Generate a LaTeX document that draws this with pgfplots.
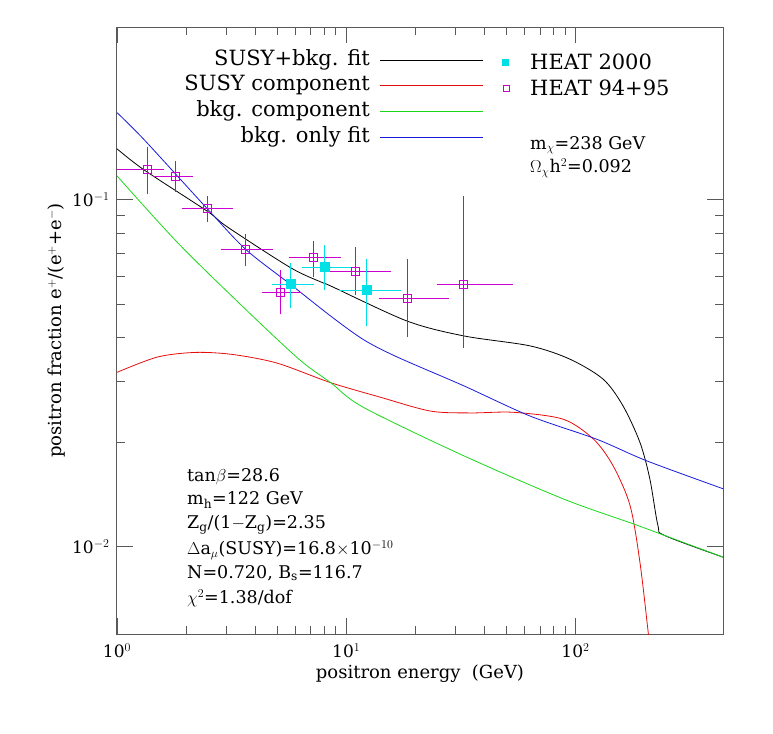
\documentclass[border=0pt]{standalone}
\usepackage{fontspec}
\setmainfont{DejaVu Serif}
\usepackage{xcolor}
\usepackage{pgfplots}
\pgfplotsset{compat=1.18}
\definecolor{cblue}{RGB}{26,26,217}
\definecolor{cgreen}{RGB}{26,217,26}
\definecolor{cred}{RGB}{230,13,13}
\pgfplotsset{heat/.style n args={2}{only marks, draw=#1, mark=#2, mark options={draw=#1, fill=#1},
  error bars/.cd, x dir=both, y dir=both, x explicit, y explicit,
  error bar style={draw=#1, line width=0.8pt}, error mark options={draw=#1, mark size=6pt, line width=0.8pt}}}
\newcommand\hm[8]{\definecolor{tmpc#1}{RGB}{#2}\addplot[mark size=4pt, heat={tmpc#1}{square}] coordinates {(#3,#4) -= (#5,#6) += (#7,#8)};}
\newcommand\hc[8]{\definecolor{tmpc#1}{RGB}{#2}\addplot[mark size=4.5pt, heat={tmpc#1}{square*}] coordinates {(#3,#4) -= (#5,#6) += (#7,#8)};}
\begin{document}
\begin{tikzpicture}
\begin{axis}[name=ax, scale only axis, width=606pt, height=607pt,
  xmode=log, ymode=log, xmin=1, xmax=440, ymin=0.00561, ymax=0.314,
  tick align=inside, major tick length=16pt, minor tick length=8pt,
  tick style={draw=gray!70!black, line width=0.8pt},
  xtick={1,10,100}, ytick={0.01,0.1},
  xticklabels={10$^0$,10$^1$,10$^2$}, yticklabels={10$^{-2}$,10$^{-1}$},
  ticklabel style={font=\fontsize{17}{20}\selectfont},
  xticklabel style={yshift=-6pt},
  yticklabel style={xshift=-4pt},
  xlabel={positron energy\ \ (GeV)}, ylabel={positron fraction e$^+$/(e$^+$+e$^-$)},
  label style={font=\fontsize{18}{21}\selectfont},
  axis line style={draw=gray!70!black, line width=1pt},
  every axis plot/.append style={line width=0.8pt},
  clip=true]
% SUSY+bkg fit
\addplot[draw=black, smooth, tension=0.5] coordinates {(1,0.14)(1.32,0.1214)(2.48,0.0925)(3.03,0.0834)(5.73,0.0636)(8.0,0.0574)(8.55,0.0564)(18.4,0.0447)(32.5,0.0405)(63.4,0.0379)(94.6,0.0347)(132,0.0304)(161,0.0255)(191,0.02)(211,0.0157)(229,0.0115)(245,0.01078)(440,0.00934)};
% SUSY component
\addplot[draw=cred, smooth, tension=0.5] coordinates {(1,0.0318)(1.5,0.0352)(2.2,0.0363)(3.2,0.0358)(5,0.0338)(8.55,0.0297)(14,0.027)(23.3,0.0246)(35,0.0243)(53.7,0.0244)(88.5,0.0233)(120,0.0204)(146,0.0171)(173,0.01315)(191,0.00904)(207.6,0.00567)(212,0.005)};
% bkg component
\addplot[draw=cgreen, smooth, tension=0.5] coordinates {(1,0.117)(1.84,0.0751)(3.58,0.0488)(6.22,0.0347)(8.55,0.0297)(11.9,0.0252)(32.5,0.0183)(88.5,0.01374)(179,0.01164)(245,0.01078)(440,0.00934)};
% bkg only fit
\addplot[draw=cblue, smooth, tension=0.5] coordinates {(1,0.178)(1.315,0.1486)(2.48,0.094)(3.65,0.0718)(5.73,0.0569)(8.55,0.0462)(11.9,0.0395)(16.7,0.0352)(32.5,0.0291)(63.4,0.0238)(124,0.0204)(204,0.0177)(440,0.0147)};
% HEAT 94+95 (one plot per point)
\hm{a}{204,0,209}{1.36}{0.122}{0.36}{0.0143}{0.15}{0.0145}
\hm{b}{205,0,209}{1.79}{0.1164}{0.27}{0.0073}{0.23}{0.0079}
\hm{c}{204,0,210}{2.49}{0.0942}{0.45}{0.0045}{0.52}{0.0039}
\hm{d}{205,0,210}{3.64}{0.0718}{0.63}{0.005}{0.85}{0.0049}
\hm{e}{203,0,209}{5.18}{0.054}{0.64}{0.0054}{0.82}{0.0061}
\hm{f}{204,0,208}{7.21}{0.0681}{1.21}{0.006}{1.69}{0.0051}
\hm{g}{203,0,208}{10.98}{0.0621}{2.08}{0.007}{3.82}{0.0079}
\hm{h}{205,0,208}{18.5}{0.052}{3.7}{0.0102}{8.0}{0.013}
\hm{i}{203,0,210}{32.4}{0.057}{5.9}{0.0182}{18.0}{0.0416}
% HEAT 2000
\hc{j}{0,224,230}{5.72}{0.057}{0.7}{0.0064}{1.08}{0.006}
\hc{k}{0,225,230}{8.05}{0.0638}{1.25}{0.0068}{1.85}{0.0072}
\hc{l}{0,224,231}{12.25}{0.0548}{2.35}{0.0099}{4.15}{0.0102}
% legend
\definecolor{lgr}{RGB}{229,12,12}
\definecolor{lgg}{RGB}{25,216,25}
\definecolor{lgb}{RGB}{25,25,216}
\definecolor{lgc}{RGB}{1,223,229}
\definecolor{lgm}{RGB}{202,1,207}
\def\lf{\fontsize{21}{24}\selectfont}
\node[anchor=east, font=\lf, inner sep=0pt] at (axis description cs:0.4175,0.9456) {SUSY+bkg. fit};
\node[anchor=east, font=\lf, inner sep=0pt] at (axis description cs:0.4175,0.9044) {SUSY component};
\node[anchor=east, font=\lf, inner sep=0pt] at (axis description cs:0.4175,0.8616) {bkg. component};
\node[anchor=east, font=\lf, inner sep=0pt] at (axis description cs:0.4175,0.8188) {bkg. only fit};
\draw[draw=black, line width=0.8pt] (axis description cs:0.434,0.9456) -- (axis description cs:0.604,0.9456);
\draw[draw=lgr, line width=0.8pt] (axis description cs:0.434,0.9044) -- (axis description cs:0.604,0.9044);
\draw[draw=lgg, line width=0.8pt] (axis description cs:0.434,0.8616) -- (axis description cs:0.604,0.8616);
\draw[draw=lgb, line width=0.8pt] (axis description cs:0.434,0.8188) -- (axis description cs:0.604,0.8188);
\fill[fill=lgc] (axis description cs:0.6419,0.9423) ++(-3.5pt,-3.5pt) rectangle ++(7pt,7pt);
\draw[draw=lgm, line width=0.8pt] (axis description cs:0.6419,0.8995) ++(-3pt,-3pt) rectangle ++(6pt,6pt);
\node[anchor=west, font=\lf, inner sep=0pt] at (axis description cs:0.6815,0.9423) {HEAT 2000};
\node[anchor=west, font=\lf, inner sep=0pt] at (axis description cs:0.6815,0.8995) {HEAT 94+95};
\def\af{\fontsize{17.5}{20}\selectfont}
\node[anchor=west, font=\af, inner sep=0pt] at (axis description cs:0.6815,0.8056) {m$_\chi$=238 GeV};
\node[anchor=west, font=\af, inner sep=0pt] at (axis description cs:0.6815,0.7677) {$\Omega_\chi$h$^2$=0.092};
\node[anchor=west, font=\af, inner sep=0pt] at (axis description cs:0.1155,0.2587) {tan$\beta$=28.6};
\node[anchor=west, font=\af, inner sep=0pt] at (axis description cs:0.1155,0.2208) {m$_{\rm h}$=122 GeV};
\node[anchor=west, font=\af, inner sep=0pt] at (axis description cs:0.1155,0.1796) {Z$_{\rm g}$/(1$-$Z$_{\rm g}$)=2.35};
\node[anchor=west, font=\af, inner sep=0pt] at (axis description cs:0.1155,0.1384) {$\Delta$a$_\mu$(SUSY)=16.8$\times$10$^{-10}$};
\node[anchor=west, font=\af, inner sep=0pt] at (axis description cs:0.1155,0.1005) {N=0.720, B$_{\rm s}$=116.7};
\node[anchor=west, font=\af, inner sep=0pt] at (axis description cs:0.1155,0.0593) {$\chi^2$=1.38/dof};
\end{axis}
\pgfresetboundingbox
\path (ax.south west) ++(-117pt,-99pt) rectangle ([shift={(50pt,27pt)}]ax.north east);
\end{tikzpicture}
\end{document}
